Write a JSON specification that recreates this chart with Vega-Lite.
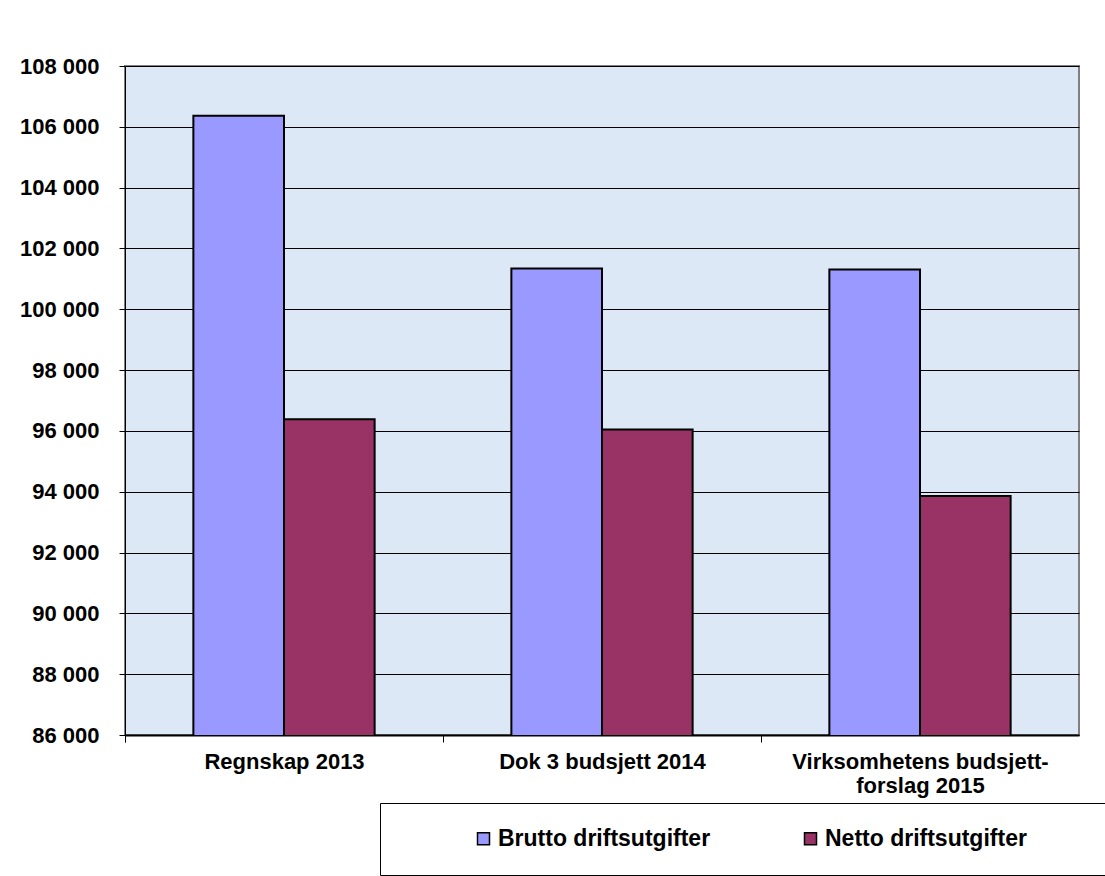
{
  "$schema": "https://vega.github.io/schema/vega-lite/v6.json",
  "width": 954,
  "height": 669,
  "autosize": {"type": "none"},
  "padding": {"left": 125, "top": 66, "right": 26, "bottom": 141},
  "background": "white",
  "data": {
    "values": [
      {"kategori": "Regnskap 2013", "serie": "Brutto driftsutgifter", "verdi": 106360},
      {"kategori": "Regnskap 2013", "serie": "Netto driftsutgifter", "verdi": 96380},
      {"kategori": "Dok 3 budsjett 2014", "serie": "Brutto driftsutgifter", "verdi": 101340},
      {"kategori": "Dok 3 budsjett 2014", "serie": "Netto driftsutgifter", "verdi": 96050},
      {"kategori": "Virksomhetens budsjett-forslag 2015", "serie": "Brutto driftsutgifter", "verdi": 101310},
      {"kategori": "Virksomhetens budsjett-forslag 2015", "serie": "Netto driftsutgifter", "verdi": 93860}
    ]
  },
  "mark": {"type": "bar", "stroke": "black", "strokeWidth": 2, "clip": true},
  "encoding": {
    "x": {
      "field": "kategori",
      "type": "nominal",
      "sort": null,
      "title": null,
      "scale": {"paddingInner": 0.43, "paddingOuter": 0.215},
      "axis": {
        "labelAngle": 0,
        "ticks": true,
        "bandPosition": 0,
        "tickOffset": -68.4,
        "labelOffset": 68.4,
        "tickExtra": true,
        "domainColor": "black",
        "domainWidth": 2,
        "tickColor": "black",
        "tickWidth": 1,
        "tickSize": 7,
        "tickOpacity": 1,
        "labelPadding": 9,
        "labelFont": "Liberation Sans",
        "labelFontSize": 22,
        "labelFontWeight": "bold",
        "labelColor": "black",
        "labelLimit": 400,
        "labelLineHeight": 24,
        "labelExpr": "datum.label == 'Virksomhetens budsjett-forslag 2015' ? ['Virksomhetens budsjett-', 'forslag 2015'] : datum.label"
      }
    },
    "xOffset": {
      "field": "serie",
      "type": "nominal",
      "sort": ["Brutto driftsutgifter", "Netto driftsutgifter"],
      "scale": {"paddingInner": 0, "paddingOuter": 0}
    },
    "y": {
      "field": "verdi",
      "type": "quantitative",
      "title": null,
      "scale": {"domain": [86000, 108000], "zero": false, "nice": false},
      "axis": {
        "values": [86000, 88000, 90000, 92000, 94000, 96000, 98000, 100000, 102000, 104000, 106000, 108000],
        "grid": true,
        "gridColor": "black",
        "gridWidth": 1,
        "gridOpacity": 1,
        "domainColor": "black",
        "domainWidth": 1,
        "tickColor": "black",
        "tickSize": 6,
        "labelPadding": 20,
        "labelFont": "Liberation Sans",
        "labelFontSize": 22,
        "labelFontWeight": "bold",
        "labelColor": "black",
        "labelExpr": "replace(format(datum.value, ','), ',', ' ')"
      }
    },
    "fill": {
      "field": "serie",
      "type": "nominal",
      "scale": {
        "domain": ["Brutto driftsutgifter", "Netto driftsutgifter"],
        "range": ["#9999FF", "#993366"]
      },
      "legend": {
        "orient": "none",
        "legendX": 255,
        "legendY": 737,
        "direction": "horizontal",
        "title": "\u00a0",
        "titleOrient": "left",
        "titleFontSize": 1,
        "titlePadding": 68,
        "padding": 24,
        "strokeColor": "black",
        "fillColor": "white",
        "symbolType": "square",
        "symbolSize": 144,
        "symbolStrokeColor": "black",
        "symbolStrokeWidth": 1.5,
        "symbolOpacity": 1,
        "labelOffset": 3,
        "columnPadding": 88,
        "labelFont": "Liberation Sans",
        "labelFontSize": 23,
        "labelFontWeight": "bold",
        "labelColor": "black",
        "labelLimit": 800,
        "labelExpr": "datum.label == 'Netto driftsutgifter' ? datum.label + '\u00a0\u00a0\u00a0\u00a0\u00a0\u00a0\u00a0\u00a0\u00a0\u00a0\u00a0\u200b' : datum.label"
      }
    }
  },
  "config": {
    "view": {"fill": "#dce8f5", "stroke": "#808080", "strokeWidth": 2},
    "font": "Liberation Sans"
  }
}
